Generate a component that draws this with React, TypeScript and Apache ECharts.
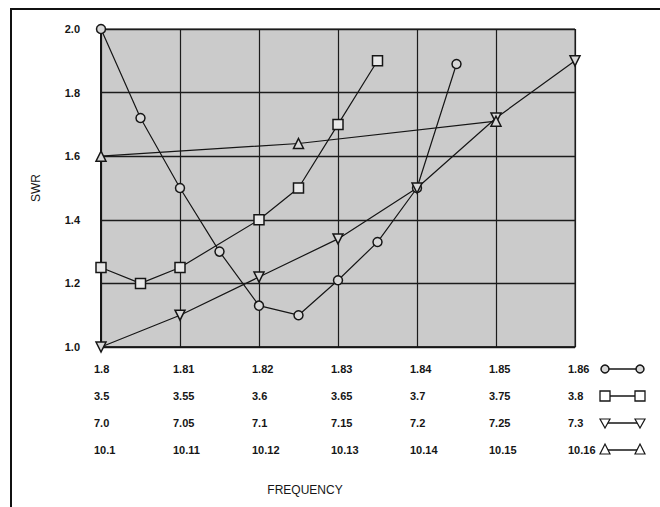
import React, { useEffect, useRef } from "react";
import * as echarts from "echarts";

// Band 1 (160 m) — circle markers
const band1Freq = [1.8, 1.805, 1.81, 1.815, 1.82, 1.825, 1.83, 1.835, 1.84, 1.845];
const band1Swr = [2.0, 1.72, 1.5, 1.3, 1.13, 1.1, 1.21, 1.33, 1.5, 1.89];
// Band 2 (80 m) — square markers
const band2Freq = [3.5, 3.525, 3.55, 3.6, 3.625, 3.65, 3.675];
const band2Swr = [1.25, 1.2, 1.25, 1.4, 1.5, 1.7, 1.9];
// Band 3 (40 m) — down triangle markers
const band3Freq = [7.0, 7.05, 7.1, 7.15, 7.2, 7.25, 7.3];
const band3Swr = [1.0, 1.1, 1.22, 1.34, 1.5, 1.72, 1.9];
// Band 4 (30 m) — up triangle markers
const band4Freq = [10.1, 10.125, 10.15];
const band4Swr = [1.6, 1.64, 1.71];

// Tick label rows (one per band), start and step of each band's scale
const row1Labels = ["1.8", "1.81", "1.82", "1.83", "1.84", "1.85", "1.86"];
const row2Labels = ["3.5", "3.55", "3.6", "3.65", "3.7", "3.75", "3.8"];
const row3Labels = ["7.0", "7.05", "7.1", "7.15", "7.2", "7.25", "7.3"];
const row4Labels = ["10.1", "10.11", "10.12", "10.13", "10.14", "10.15", "10.16"];
const bandStart = [1.8, 3.5, 7.0, 10.1];
const bandStep = [0.01, 0.05, 0.05, 0.01];

const yTicks = [1.0, 1.2, 1.4, 1.6, 1.8, 2.0];

const FONT = "Liberation Sans";
const INK = "#161616";

export default function App() {
  const ref = useRef<HTMLDivElement>(null);

  useEffect(() => {
    if (!ref.current) return;
    const chart = echarts.init(ref.current, undefined, { renderer: "svg" });

    const toPos = (b: number, f: number) => (f - bandStart[b]) / bandStep[b];
    const mk = (b: number, fr: number[], sw: number[]) => fr.map((f, i) => [toPos(b, f), sw[i]]);

    const lineStyle = { color: INK, width: 1.2 };
    const itemStyle = { color: "#d8d8d8", borderColor: INK, borderWidth: 1.5 };

    const labelRows = [row1Labels, row2Labels, row3Labels, row4Labels];
    const labelAxes = labelRows.map((rows, k) => ({
      type: "value",
      gridIndex: 1,
      min: 0,
      max: 6,
      interval: 1,
      position: "bottom",
      offset: k * 27,
      axisLine: { show: false },
      axisTick: { show: false },
      splitLine: { show: false },
      axisLabel: {
        show: true,
        align: "left",
        margin: 16,
        fontFamily: FONT,
        fontSize: 11,
        fontWeight: "bold",
        color: INK,
        formatter: (v: number) => rows[Math.round(v)] ?? "",
      },
    }));

    // legend keys (line with a symbol at each end)
    const keyY = [369, 396, 423, 450];
    const x0 = 605;
    const x1 = 640;
    const keyLine = (y: number) => ({
      type: "line",
      shape: { x1: x0, y1: y, x2: x1, y2: y },
      style: { stroke: INK, lineWidth: 1.3 },
    });
    const graphics: any[] = [
      { type: "line", shape: { x1: 10, y1: 9, x2: 660, y2: 9 }, style: { stroke: "#111", lineWidth: 2 } },
      { type: "line", shape: { x1: 11, y1: 9, x2: 11, y2: 507 }, style: { stroke: "#111", lineWidth: 2 } },
      {
        type: "text",
        style: { text: "FREQUENCY", x: 305, y: 490, textAlign: "center", textVerticalAlign: "middle", fontFamily: FONT, fontSize: 12, fill: INK },
      },
      keyLine(keyY[0]),
      { type: "circle", shape: { cx: x0, cy: keyY[0], r: 4 }, style: { fill: "#d8d8d8", stroke: INK, lineWidth: 1.5 } },
      { type: "circle", shape: { cx: x1, cy: keyY[0], r: 4 }, style: { fill: "#d8d8d8", stroke: INK, lineWidth: 1.5 } },
      keyLine(keyY[1]),
      { type: "rect", shape: { x: x0 - 5, y: keyY[1] - 5, width: 10, height: 10 }, style: { fill: "#fff", stroke: INK, lineWidth: 1.3 } },
      { type: "rect", shape: { x: x1 - 5, y: keyY[1] - 5, width: 10, height: 10 }, style: { fill: "#fff", stroke: INK, lineWidth: 1.3 } },
      keyLine(keyY[2]),
      { type: "polygon", shape: { points: [[x0 - 5, keyY[2] - 4], [x0 + 5, keyY[2] - 4], [x0, keyY[2] + 5]] }, style: { fill: "#fff", stroke: INK, lineWidth: 1.2 } },
      { type: "polygon", shape: { points: [[x1 - 5, keyY[2] - 4], [x1 + 5, keyY[2] - 4], [x1, keyY[2] + 5]] }, style: { fill: "#fff", stroke: INK, lineWidth: 1.2 } },
      keyLine(keyY[3]),
      { type: "polygon", shape: { points: [[x0 - 5, keyY[3] + 4], [x0 + 5, keyY[3] + 4], [x0, keyY[3] - 6]] }, style: { fill: "#fff", stroke: INK, lineWidth: 1.2 } },
      { type: "polygon", shape: { points: [[x1 - 5, keyY[3] + 4], [x1 + 5, keyY[3] + 4], [x1, keyY[3] - 6]] }, style: { fill: "#fff", stroke: INK, lineWidth: 1.2 } },
    ];

    chart.setOption({
      animation: false,
      backgroundColor: "#ffffff",
      grid: [
        { left: 101, top: 29, width: 474, height: 318, show: true, backgroundColor: "#cbcbcb", borderColor: "#222", borderWidth: 1 },
        { left: 94, top: 29, width: 474, height: 318, show: false },
      ],
      xAxis: [
        {
          type: "value",
          gridIndex: 0,
          min: 0,
          max: 6,
          interval: 1,
          axisLine: { show: true, lineStyle: { color: INK, width: 1.5 } },
          axisTick: { show: false },
          axisLabel: { show: false },
          splitLine: { show: true, lineStyle: { color: "#1c1c1c", width: 1.2 } },
        },
        ...labelAxes,
      ],
      yAxis: [
        {
          type: "value",
          gridIndex: 0,
          min: yTicks[0],
          max: yTicks[yTicks.length - 1],
          interval: 0.2,
          name: "SWR",
          nameLocation: "middle",
          nameGap: 59,
          nameRotate: 90,
          nameTextStyle: { fontFamily: FONT, fontSize: 12, color: INK },
          axisLine: { show: true, lineStyle: { color: INK, width: 2 } },
          axisTick: { show: false },
          axisLabel: {
            margin: 21,
            fontFamily: FONT,
            fontSize: 11,
            fontWeight: "bold",
            color: INK,
            formatter: (v: number) => v.toFixed(1),
          },
          splitLine: { show: true, lineStyle: { color: "#1c1c1c", width: 1.3 } },
        },
        { type: "value", gridIndex: 1, min: 0, max: 1, show: false },
      ],
      series: [
        { name: "1.8 MHz", type: "line", data: mk(0, band1Freq, band1Swr), symbol: "circle", symbolSize: 9, lineStyle, itemStyle },
        { name: "3.5 MHz", type: "line", data: mk(1, band2Freq, band2Swr), symbol: "rect", symbolSize: 10, lineStyle, itemStyle: { ...itemStyle, color: "#e8e8e8" } },
        { name: "7 MHz", type: "line", data: mk(2, band3Freq, band3Swr), symbol: "triangle", symbolRotate: 180, symbolSize: 10, lineStyle, itemStyle },
        { name: "10.1 MHz", type: "line", data: mk(3, band4Freq, band4Swr), symbol: "triangle", symbolSize: 10, lineStyle, itemStyle },
      ],
      graphic: graphics,
    });

    return () => chart.dispose();
  }, []);

  return <div ref={ref} style={{ position: "fixed", left: 0, top: 0, width: 660, height: 507 }} />;
}
